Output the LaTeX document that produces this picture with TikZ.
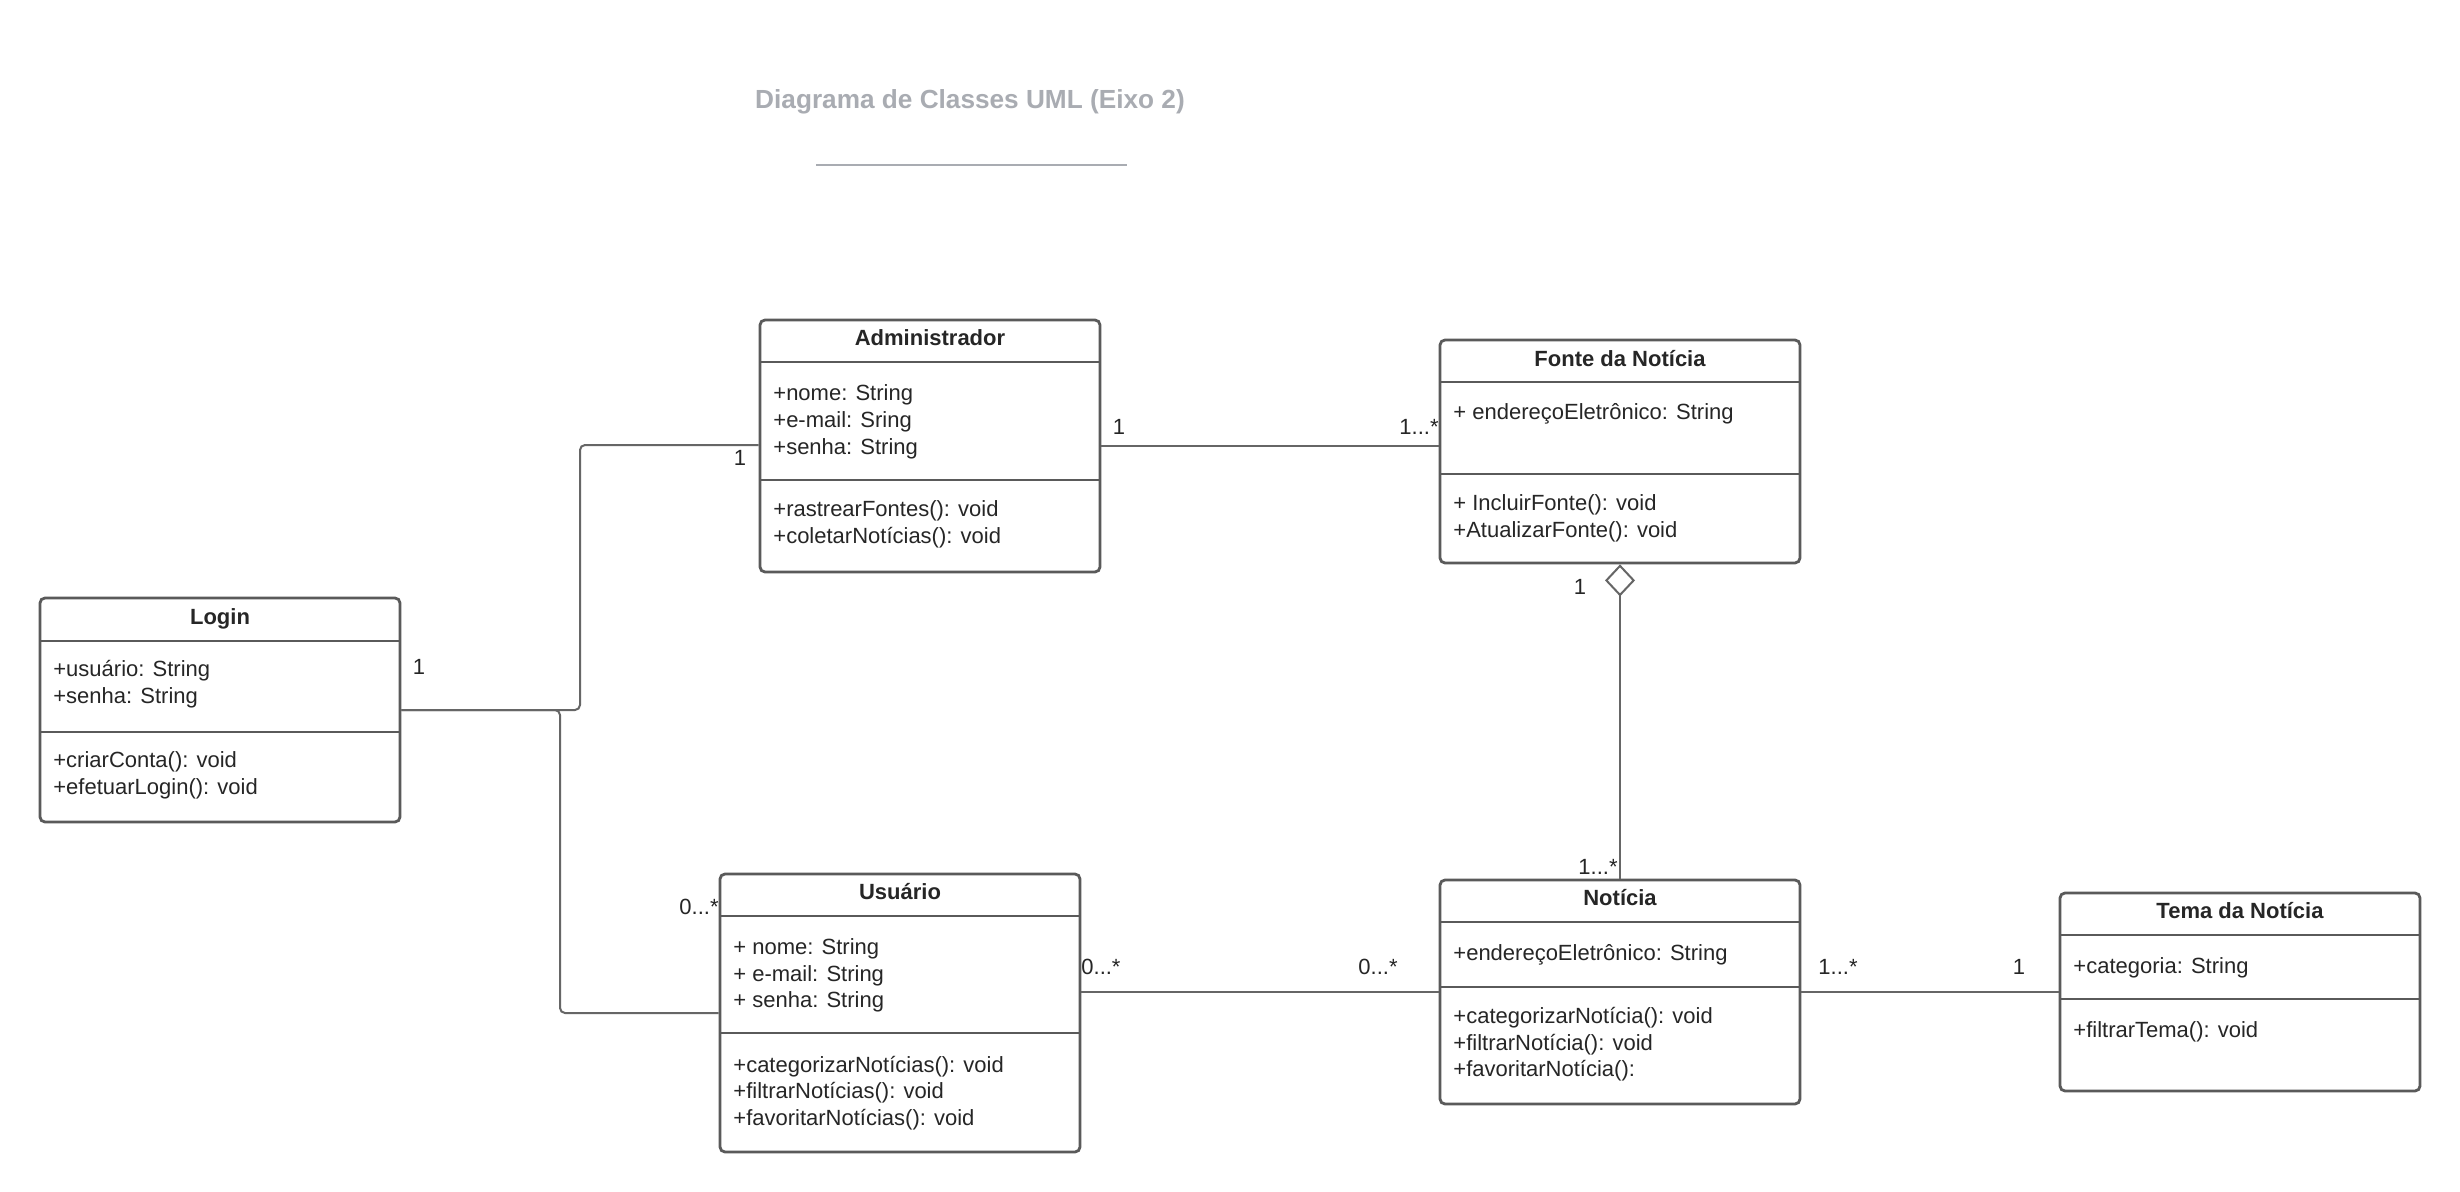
\documentclass[tikz,border=0pt]{standalone}
\usepackage{fontspec}
\setmainfont{Liberation Sans}
\usetikzlibrary{fit,arrows.meta}
\definecolor{boxline}{HTML}{5A5A5A}
\definecolor{wireline}{HTML}{666666}
\definecolor{ink}{HTML}{262626}
\definecolor{titlegray}{HTML}{A9ACB2}
\begin{document}
\begin{tikzpicture}[x=0.5pt,y=-0.5pt,
  classbox/.style={draw=boxline, line width=1.4pt, rounded corners=2.5pt, fill=white, inner sep=0pt},
  divider/.style={draw=boxline, line width=1.4pt},
  classname/.style={font=\fontsize{11}{13}\selectfont\bfseries, text=ink, inner sep=0pt, anchor=base},
  member/.style={font=\fontsize{11}{13}\selectfont, text=ink, inner sep=0pt, anchor=base west, yshift=-0.8pt},
  mult/.style={font=\fontsize{11}{13}\selectfont, text=ink, inner sep=0pt, anchor=base},
  assoc/.style={draw=wireline, line width=1pt, rounded corners=2.5pt},
]
\useasboundingbox[fill=white] (0,0) rectangle (2460,1192);

% heading
\node[font=\fontsize{13.1}{15}\selectfont\bfseries, text=titlegray, inner sep=0pt, anchor=base] (heading) at (970,109) {Diagrama de Classes UML (Eixo 2)};
\draw[titlegray, line width=1pt] (816,165) -- (1127,165);

% ---- Administrador
\node[classbox, fit={(760,320) (1100,572)}] (admin) {};
\draw[divider] (760,362) -- (1100,362);
\draw[divider] (760,480) -- (1100,480);
\node[classname] (admin-t) at (930,346) {Administrador};
\node[member] (admin-a1) at (773,399) {+nome: String};
\node[member] (admin-a2) at (773,426) {+e-mail: Sring};
\node[member] (admin-a3) at (773,453) {+senha: String};
\node[member] (admin-m1) at (773,515) {+rastrearFontes(): void};
\node[member] (admin-m2) at (773,542) {+coletarNotícias(): void};

% ---- Fonte da Notícia
\node[classbox, fit={(1440,340) (1800,563)}] (fonte) {};
\draw[divider] (1440,382) -- (1800,382);
\draw[divider] (1440,474) -- (1800,474);
\node[classname] (fonte-t) at (1620,366) {Fonte da Notícia};
\node[member] (fonte-a1) at (1453,418) {+ endereçoEletrônico: String};
\node[member] (fonte-m1) at (1453,509) {+ IncluirFonte(): void};
\node[member] (fonte-m2) at (1453,536) {+AtualizarFonte(): void};

% ---- Login
\node[classbox, fit={(40,598) (400,822)}] (login) {};
\draw[divider] (40,641) -- (400,641);
\draw[divider] (40,732) -- (400,732);
\node[classname] (login-t) at (220,624) {Login};
\node[member] (login-a1) at (53,675) {+usuário: String};
\node[member] (login-a2) at (53,702) {+senha: String};
\node[member] (login-m1) at (53,766) {+criarConta(): void};
\node[member] (login-m2) at (53,793) {+efetuarLogin(): void};

% ---- Usuário
\node[classbox, fit={(720,874) (1080,1152)}] (usuario) {};
\draw[divider] (720,916) -- (1080,916);
\draw[divider] (720,1033) -- (1080,1033);
\node[classname] (usuario-t) at (900,899) {Usuário};
\node[member] (usuario-a1) at (733,953) {+ nome: String};
\node[member] (usuario-a2) at (733,980) {+ e-mail: String};
\node[member] (usuario-a3) at (733,1006) {+ senha: String};
\node[member] (usuario-m1) at (733,1071) {+categorizarNotícias(): void};
\node[member] (usuario-m2) at (733,1097) {+filtrarNotícias(): void};
\node[member] (usuario-m3) at (733,1124) {+favoritarNotícias(): void};

% ---- Notícia
\node[classbox, fit={(1440,880) (1800,1104)}] (noticia) {};
\draw[divider] (1440,922) -- (1800,922);
\draw[divider] (1440,987) -- (1800,987);
\node[classname] (noticia-t) at (1620,905) {Notícia};
\node[member] (noticia-a1) at (1453,959) {+endereçoEletrônico: String};
\node[member] (noticia-m1) at (1453,1022) {+categorizarNotícia(): void};
\node[member] (noticia-m2) at (1453,1049) {+filtrarNotícia(): void};
\node[member] (noticia-m3) at (1453,1075) {+favoritarNotícia():};

% ---- Tema da Notícia
\node[classbox, fit={(2060,893) (2420,1091)}] (tema) {};
\draw[divider] (2060,935) -- (2420,935);
\draw[divider] (2060,999) -- (2420,999);
\node[classname] (tema-t) at (2240,918) {Tema da Notícia};
\node[member] (tema-a1) at (2073,972) {+categoria: String};
\node[member] (tema-m1) at (2073,1036) {+filtrarTema(): void};

% ---- bend points of the connectors
\coordinate (hubA) at (580,710);
\coordinate (hubB) at (580,445);
\coordinate (dropA) at (560,710);
\coordinate (dropB) at (560,1013);
\coordinate (af) at (1270,446);
\coordinate (un) at (1260,992);
\coordinate (nt) at (1930,992);

% ---- associations
\draw[assoc] (login.east |- hubA) -- (hubA) -- (hubB) -- (admin.west |- hubB);
\draw[assoc] (login.east |- dropA) -- (dropA) -- (dropB) -- (usuario.west |- dropB);
\draw[assoc] (admin.east |- af) -- (fonte.west |- af);
\draw[assoc, {Diamond[open, length=16pt, width=15pt, line width=1pt]}-] (fonte.south) -- (noticia.north);
\draw[assoc] (usuario.east |- un) -- (noticia.west |- un);
\draw[assoc] (noticia.east |- nt) -- (tema.west |- nt);

% ---- multiplicities
\node[mult] (m-login) at (419,674) {1};
\node[mult] (m-admin-l) at (740,465) {1};
\node[mult] (m-admin-r) at (1119,434) {1};
\node[mult, anchor=base east] (m-fonte-l) at (1439,434) {1...*};
\node[mult] (m-fonte-b) at (1580,594) {1};
\node[mult, anchor=base east] (m-noticia-t) at (1618,874) {1...*};
\node[mult, anchor=base east] (m-usuario-l) at (719,914) {0...*};
\node[mult, anchor=base west] (m-usuario-r) at (1081,974) {0...*};
\node[mult, anchor=base east] (m-noticia-l) at (1398,974) {0...*};
\node[mult] (m-noticia-r) at (1838,974) {1...*};
\node[mult] (m-tema) at (2019,974) {1};
\end{tikzpicture}
\end{document}
